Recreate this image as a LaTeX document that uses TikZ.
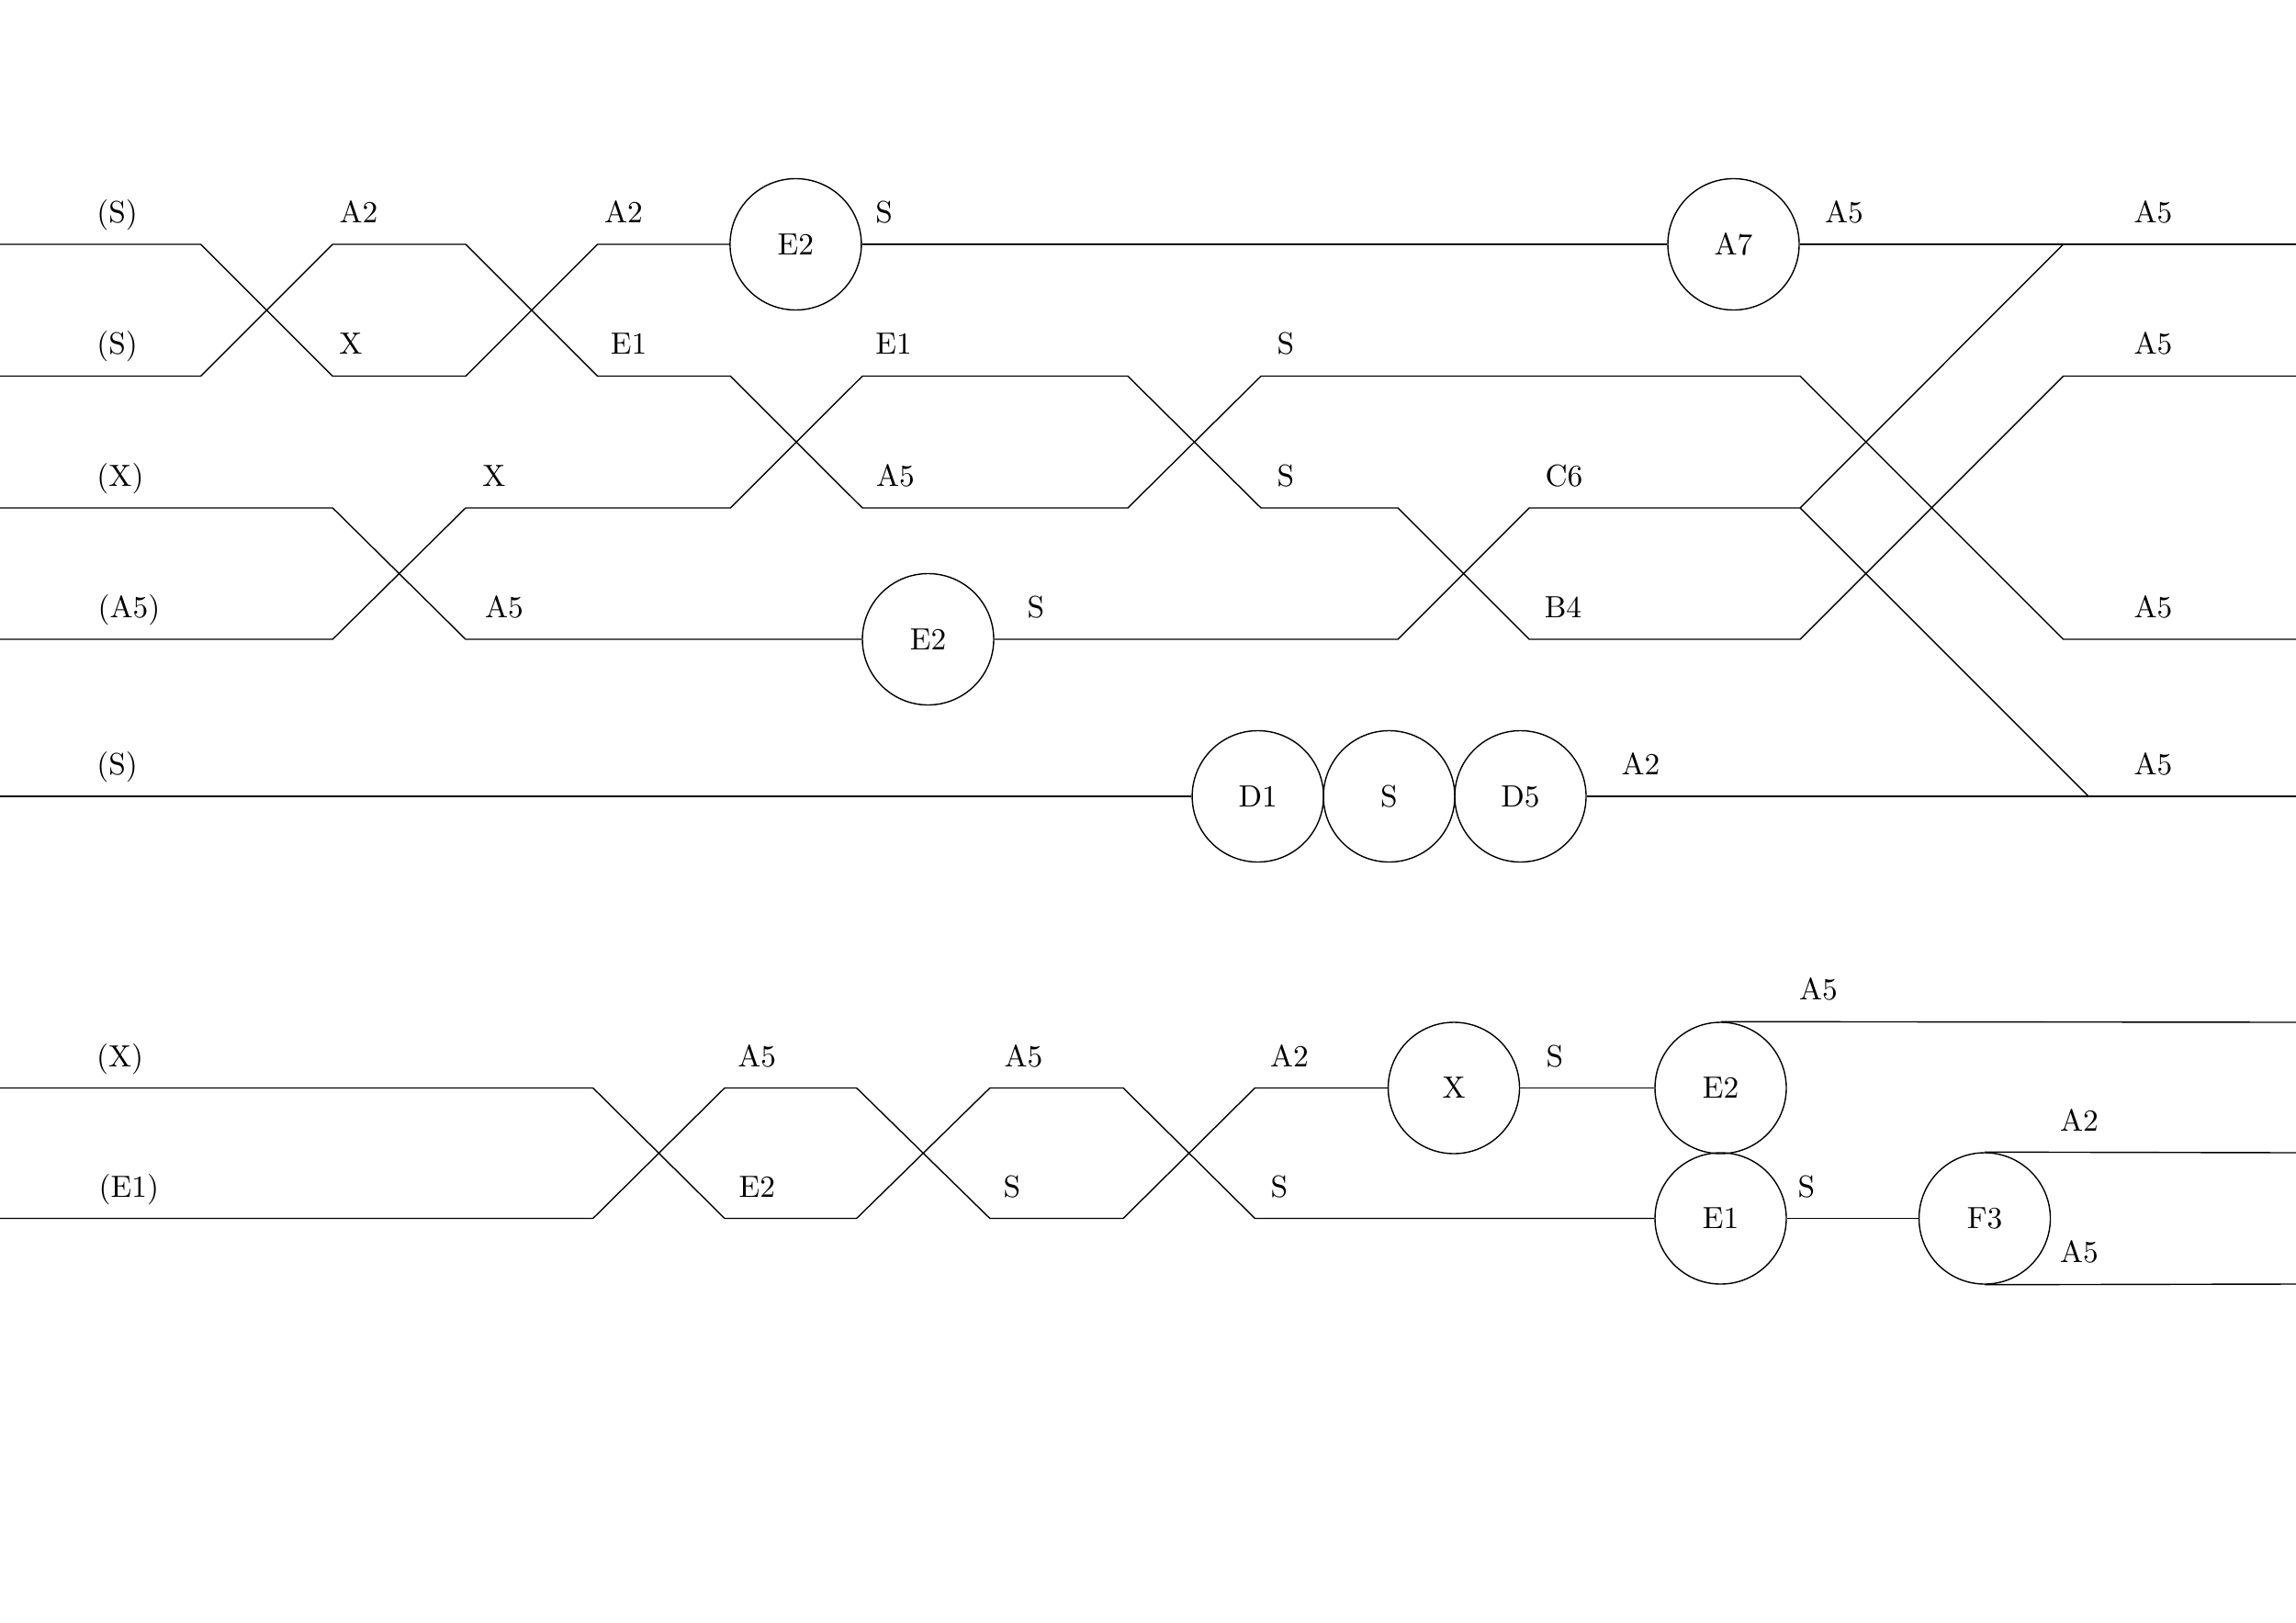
\documentclass[tikz,border=0pt]{standalone}
\usepackage{tikz}

\begin{document}
\begin{tikzpicture}[
    station/.style={circle, draw, minimum size=1.43cm, inner sep=0pt, font=\fontsize{9.5}{11}\selectfont},
    lbl/.style={anchor=base, inner sep=0pt, font=\fontsize{9.5}{11}\selectfont}]
				\useasboundingbox (0,0) rectangle (25,-17.67);
				
				% upper block
				\node[station] (e2a) at (8.664,-2.66) {E2};
				\node[station] (a7) at (18.875,-2.66) {A7};
				\node[station] (e2b) at (10.105,-6.96) {E2};
				\node[station] (d1) at (13.696,-8.67) {D1};
				\node[station] (sx) at (15.125,-8.67) {S};
				\node[station] (d5) at (16.555,-8.67) {D5};
				
				\coordinate (l1) at (0,-2.66);
				\coordinate (l2) at (0,-4.095);
				\coordinate (l3) at (0,-5.53);
				\coordinate (l4) at (0,-6.96);
				\coordinate (l5) at (0,-8.67);
				\coordinate (r1) at (25,-2.66);
				\coordinate (r2) at (25,-4.095);
				\coordinate (r4) at (25,-6.96);
				\coordinate (r5) at (25,-8.67);
				\coordinate (fork) at (19.60,-5.53);
				\coordinate (j1) at (22.465,-2.66);
				\coordinate (j5) at (22.74,-8.67);
				
				\draw (l1) -- (2.187,-2.66) -- (3.622,-4.095) -- (5.07,-4.095) -- (6.505,-2.66) -- (e2a);
				\draw (e2a) -- (a7);
				\draw (a7) -- (r1);
				\draw (l2) -- (2.187,-4.095) -- (3.622,-2.66) -- (5.07,-2.66) -- (6.505,-4.095) -- (7.953,-4.095) -- (9.39,-5.53) -- (12.28,-5.53) -- (13.73,-4.095) -- (19.60,-4.095) -- (22.465,-6.96) -- (r4);
				\draw (l3) -- (3.622,-5.53) -- (5.07,-6.96) -- (e2b);
				\draw (l4) -- (3.622,-6.96) -- (5.07,-5.53) -- (7.953,-5.53) -- (9.39,-4.095) -- (12.28,-4.095) -- (13.73,-5.53) -- (15.22,-5.53) -- (16.65,-6.96) -- (19.60,-6.96) -- (22.465,-4.095) -- (r2);
				\draw (e2b) -- (15.22,-6.96) -- (16.65,-5.53) -- (fork) -- (j1);
				\draw (fork) -- (j5);
				\draw (l5) -- (d1);
				\draw (d5) -- (r5);
				
				\node[lbl] (t11) at (1.276,-2.425) {(S)};
				\node[lbl] (t12) at (3.905,-2.425) {A2};
				\node[lbl] (t13) at (6.79,-2.425) {A2};
				\node[lbl] (t14) at (9.627,-2.425) {S};
				\node[lbl] (t15) at (20.08,-2.425) {A5};
				\node[lbl] (t16) at (23.445,-2.425) {A5};
				
				\node[lbl] (t21) at (1.276,-3.86) {(S)};
				\node[lbl] (t22) at (3.818,-3.86) {X};
				\node[lbl] (t23) at (6.846,-3.86) {E1};
				\node[lbl] (t24) at (9.73,-3.86) {E1};
				\node[lbl] (t25) at (14.0,-3.86) {S};
				\node[lbl] (t26) at (23.445,-3.86) {A5};
				
				\node[lbl] (t31) at (1.31,-5.295) {(X)};
				\node[lbl] (t32) at (5.38,-5.295) {X};
				\node[lbl] (t33) at (9.75,-5.295) {A5};
				\node[lbl] (t34) at (14.0,-5.295) {S};
				\node[lbl] (t35) at (17.03,-5.295) {C6};
				
				\node[lbl] (t41) at (1.405,-6.725) {(A5)};
				\node[lbl] (t42) at (5.49,-6.725) {A5};
				\node[lbl] (t43) at (11.28,-6.725) {S};
				\node[lbl] (t44) at (17.02,-6.725) {B4};
				\node[lbl] (t45) at (23.445,-6.725) {A5};
				
				\node[lbl] (t51) at (1.276,-8.435) {(S)};
				\node[lbl] (t52) at (17.865,-8.435) {A2};
				\node[lbl] (t53) at (23.445,-8.435) {A5};
				
				% lower block
				\node[station] (xb) at (15.83,-11.845) {X};
				\node[station] (e2c) at (18.735,-11.845) {E2};
				\node[station] (e1) at (18.735,-13.265) {E1};
				\node[station] (f3) at (21.61,-13.265) {F3};
				
				\coordinate (l6) at (0,-11.845);
				\coordinate (l7) at (0,-13.265);
				\coordinate (r6) at (25,-11.13);
				\coordinate (r7) at (25,-12.55);
				\coordinate (r8) at (25,-13.98);
				
				\draw (l6) -- (6.457,-11.845) -- (7.89,-13.265) -- (9.327,-13.265) -- (10.778,-11.845) -- (12.23,-11.845) -- (13.664,-13.265) -- (e1);
				\draw (l7) -- (6.457,-13.265) -- (7.89,-11.845) -- (9.327,-11.845) -- (10.778,-13.265) -- (12.23,-13.265) -- (13.664,-11.845) -- (xb);
				\draw (xb) -- (e2c);
				\draw (e1) -- (f3);
				\draw (e2c.north) -- (r6);
				\draw (f3.north) -- (r7);
				\draw (f3.south) -- (r8);
				
				\node[lbl] (b11) at (1.307,-11.61) {(X)};
				\node[lbl] (b12) at (8.243,-11.61) {A5};
				\node[lbl] (b13) at (11.145,-11.61) {A5};
				\node[lbl] (b14) at (14.04,-11.61) {A2};
				\node[lbl] (b15) at (16.93,-11.61) {S};
				
				\node[lbl] (b21) at (1.403,-13.03) {(E1)};
				\node[lbl] (b22) at (8.243,-13.03) {E2};
				\node[lbl] (b23) at (11.02,-13.03) {S};
				\node[lbl] (b24) at (13.93,-13.03) {S};
				\node[lbl] (b25) at (19.67,-13.03) {S};
				
				\node[lbl] (b31) at (19.80,-10.885) {A5};
				\node[lbl] (b32) at (22.64,-12.31) {A2};
				\node[lbl] (b33) at (22.64,-13.74) {A5};
			\end{tikzpicture}
\end{document}
